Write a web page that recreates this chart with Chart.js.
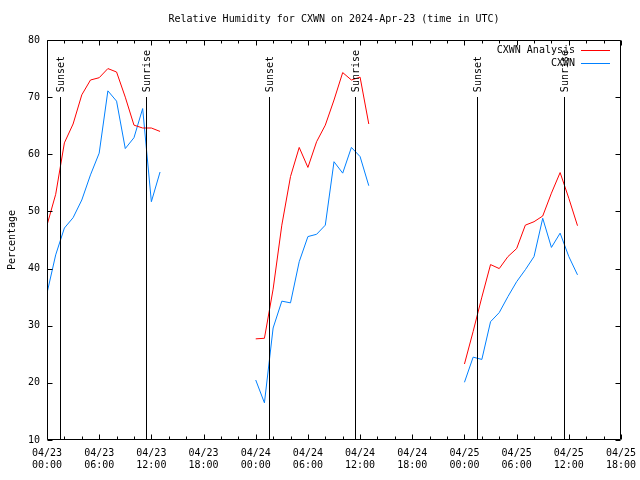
<!DOCTYPE html>
<html>
<head>
<meta charset="utf-8">
<script src="https://cdn.jsdelivr.net/npm/chart.js@4/dist/chart.umd.min.js"></script>
<style>
  html, body { margin: 0; padding: 0; background: #fff; }
  #c { display: block; }
</style>
</head>
<body>
<canvas id="c" width="640" height="480"></canvas>
<script>
// ---- data (hours since 04/23 00:00 UTC) ----
const segmentStartHours = [0, 24, 48];
const analysisDay1 = [47.6, 53, 62, 65.3, 70.4, 73, 73.4, 75, 74.4, 70, 65.1, 64.6, 64.6, 64];
const analysisDay2 = [27.7, 27.8, 36.4, 47.6, 56.1, 61.2, 57.7, 62.2, 65.1, 69.5, 74.3, 73, 73.5, 65.3];
const analysisDay3 = [23.3, 29, 35, 40.7, 40, 42.1, 43.5, 47.6, 48.2, 49.2, 53.2, 56.8, 52.3, 47.5];
const obsDay1 = [35.7, 42.4, 47.1, 48.9, 52, 56.4, 60.2, 71.1, 69.3, 61, 62.9, 68, 51.7, 56.9];
const obsDay2 = [20.5, 16.5, 29.6, 34.3, 34, 41.2, 45.6, 46, 47.6, 58.7, 56.7, 61.2, 59.6, 54.5];
const obsDay3 = [20.1, 24.5, 24.1, 30.7, 32.3, 35.1, 37.7, 39.8, 42.1, 48.8, 43.7, 46.2, 42.1, 38.9];
const sunsetHours = [1.45, 25.47, 49.48];
const sunriseHours = [11.33, 35.38, 59.43];
const xTickDates = ['04/23', '04/23', '04/23', '04/23', '04/24', '04/24', '04/24', '04/24', '04/25', '04/25', '04/25', '04/25'];
const xTickTimes = ['00:00', '06:00', '12:00', '18:00', '00:00', '06:00', '12:00', '18:00', '00:00', '06:00', '12:00', '18:00'];
const seriesNames = ['CXWN Analysis', 'CXWN'];
const titleText = 'Relative Humidity for CXWN on 2024-Apr-23 (time in UTC)';
const yAxisTitle = 'Percentage';

const FONT = '"DejaVu Sans Mono", "Liberation Mono", monospace';

function buildSeries(segments) {
  const pts = [];
  segments.forEach((vals, i) => {
    const start = segmentStartHours[i];
    vals.forEach((v, j) => pts.push({ x: start + j, y: v }));
    pts.push({ x: start + vals.length - 0.5, y: null });
  });
  return pts;
}

const decoPlugin = {
  id: 'deco',
  afterDatasetsDraw(chart) {
    const ctx = chart.ctx;
    const xs = chart.scales.x, ys = chart.scales.y;
    ctx.save();
    ctx.strokeStyle = '#000';
    ctx.lineWidth = 1;
    const yTop = Math.round(ys.getPixelForValue(70));
    const yBot = Math.round(ys.getPixelForValue(10));
    ctx.beginPath();
    sunsetHours.concat(sunriseHours).forEach(h => {
      const px = Math.round(xs.getPixelForValue(h)) + 0.5;
      ctx.moveTo(px, yTop); ctx.lineTo(px, yBot);
    });
    ctx.stroke();
    ctx.restore();
  },
  afterDraw(chart) {
    const ctx = chart.ctx;
    const ca = chart.chartArea;
    const xs = chart.scales.x, ys = chart.scales.y;
    ctx.save();
    ctx.strokeStyle = '#000';
    ctx.lineWidth = 1;
    // frame
    const L = Math.round(ca.left) + 0.5, R = Math.round(ca.right) - 0.5;
    const T = Math.round(ca.top) + 0.5, B = Math.round(ca.bottom) - 0.5;
    ctx.beginPath();
    ctx.rect(L, T, R - L, B - T);
    // x ticks every 2 hours (inward, top and bottom)
    for (let h = 0; h <= 66; h += 2) {
      const px = Math.round(xs.getPixelForValue(h)) + 0.5;
      const len = (h % 6 === 0) ? 5 : 3;
      ctx.moveTo(px, B); ctx.lineTo(px, B - len);
      ctx.moveTo(px, T); ctx.lineTo(px, T + len);
    }
    // y ticks every 10 (inward, left and right)
    for (let v = 10; v <= 80; v += 10) {
      const py = Math.round(ys.getPixelForValue(v)) + 0.5;
      ctx.moveTo(L, py); ctx.lineTo(L + 5, py);
      ctx.moveTo(R, py); ctx.lineTo(R - 5, py);
    }
    ctx.stroke();

    // sunset / sunrise labels
    ctx.fillStyle = '#000';
    ctx.font = '10px ' + FONT;
    ctx.textAlign = 'left';
    ctx.textBaseline = 'middle';
    const labelY = ys.getPixelForValue(70) - 5;
    const drawLabel = (h, txt) => {
      ctx.save();
      ctx.translate(Math.round(xs.getPixelForValue(h)) + 1, labelY);
      ctx.rotate(-Math.PI / 2);
      ctx.fillText(txt, 0, 0);
      ctx.restore();
    };
    sunsetHours.forEach(h => drawLabel(h, 'Sunset'));
    sunriseHours.forEach(h => drawLabel(h, 'Sunrise'));

    // legend (text right-aligned, sample line to the right)
    const legColors = ['#ff0000', '#0080ff'];
    ctx.textAlign = 'right';
    seriesNames.forEach((name, i) => {
      const y = 50 + i * 13;
      ctx.fillStyle = '#000';
      ctx.fillText(name, 575, y);
      ctx.strokeStyle = legColors[i];
      ctx.beginPath();
      ctx.moveTo(581, y + 0.5);
      ctx.lineTo(610, y + 0.5);
      ctx.stroke();
    });

    // title
    ctx.fillStyle = '#000';
    ctx.textAlign = 'center';
    ctx.fillText(titleText, (ca.left + ca.right) / 2, 19);
    ctx.restore();
  }
};

Chart.defaults.color = '#000';
Chart.defaults.font.family = FONT;
Chart.defaults.font.size = 10;

new Chart(document.getElementById('c'), {
  type: 'line',
  data: {
    datasets: [
      {
        label: seriesNames[0],
        data: buildSeries([analysisDay1, analysisDay2, analysisDay3]),
        borderColor: '#ff0000', borderWidth: 1, pointRadius: 0, spanGaps: false, tension: 0
      },
      {
        label: seriesNames[1],
        data: buildSeries([obsDay1, obsDay2, obsDay3]),
        borderColor: '#0080ff', borderWidth: 1, pointRadius: 0, spanGaps: false, tension: 0
      }
    ]
  },
  options: {
    responsive: false,
    animation: false,
    devicePixelRatio: 1,
    layout: { padding: { top: 40, right: 19, left: 0, bottom: 0 } },
    plugins: { legend: { display: false }, title: { display: false }, tooltip: { enabled: false } },
    scales: {
      x: {
        type: 'linear', min: 0, max: 66,
        grid: { display: false, drawTicks: false },
        border: { display: false },
        ticks: {
          stepSize: 6, autoSkip: false, maxRotation: 0, minRotation: 0, padding: 7,
          callback: (v) => {
            const i = Math.round(v / 6);
            return [xTickDates[i], xTickTimes[i]];
          }
        },
        afterFit: (s) => { s.height = 40; s.paddingLeft = 0; s.paddingRight = 0; }
      },
      y: {
        type: 'linear', min: 10, max: 80,
        grid: { display: false, drawTicks: false },
        border: { display: false },
        ticks: { stepSize: 10, padding: 7 },
        title: { display: true, text: yAxisTitle, padding: { top: 6, bottom: 0 } },
        afterFit: (s) => { s.width = 47; s.paddingTop = 0; s.paddingBottom = 0; }
      }
    }
  },
  plugins: [decoPlugin]
});
</script>
</body>
</html>
